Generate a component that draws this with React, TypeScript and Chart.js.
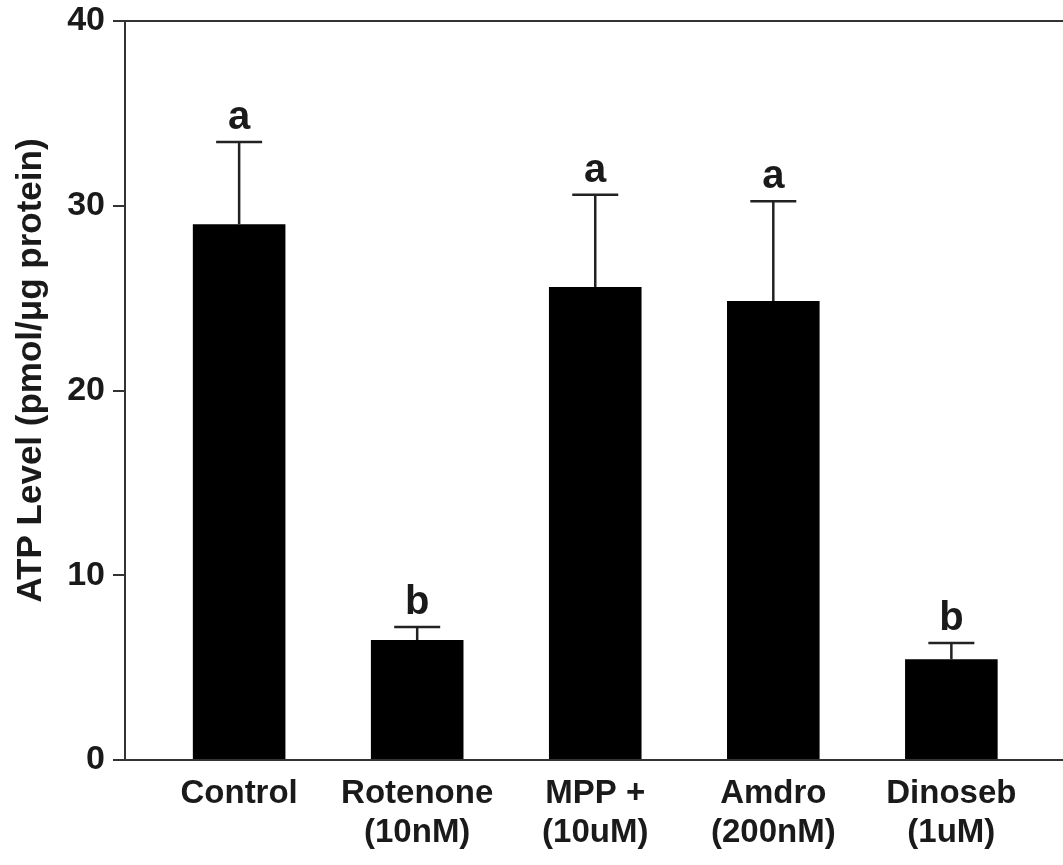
import React, { useEffect, useRef } from "react";
import { Chart, registerables } from "chart.js";

Chart.register(...registerables);

const categories: string[][] = [
  ["Control"],
  ["Rotenone", "(10nM)"],
  ["MPP +", "(10uM)"],
  ["Amdro", "(200nM)"],
  ["Dinoseb", "(1uM)"],
];
const atpMeans = [29.0, 6.5, 25.6, 24.85, 5.45];
const atpSem = [4.45, 0.7, 5.0, 5.4, 0.88];
const groupLetters = ["a", "b", "a", "a", "b"];
const yTickValues = [0, 10, 20, 30, 40];
const yTitle = "ATP Level (pmol/\u03BCg protein)";

const FONT = "'Liberation Sans', Arial, Helvetica, sans-serif";
const INK = "#1a1a1a";

export default function App() {
  const canvasRef = useRef<HTMLCanvasElement | null>(null);

  useEffect(() => {
    const canvas = canvasRef.current;
    if (!canvas) return;

    const extras = {
      id: "extras",
      afterDatasetsDraw(chart: any) {
        const { ctx, chartArea } = chart;
        const xs = chart.scales.x;
        const ys = chart.scales.y;
        ctx.save();
        // top frame line
        ctx.strokeStyle = "#333";
        ctx.lineWidth = 2;
        ctx.beginPath();
        ctx.moveTo(chartArea.left, chartArea.top);
        ctx.lineTo(chartArea.right, chartArea.top);
        ctx.stroke();
        // error bars and letters
        atpMeans.forEach((m, i) => {
          const px = xs.getPixelForValue(i);
          const yMean = ys.getPixelForValue(m);
          const yTop = ys.getPixelForValue(m + atpSem[i]);
          ctx.strokeStyle = "#222";
          ctx.lineWidth = 2.5;
          ctx.beginPath();
          ctx.moveTo(px, yMean);
          ctx.lineTo(px, yTop);
          ctx.moveTo(px - 23, yTop);
          ctx.lineTo(px + 23, yTop);
          ctx.stroke();
          ctx.fillStyle = INK;
          ctx.font = `bold 40px ${FONT}`;
          ctx.textAlign = "center";
          ctx.textBaseline = "alphabetic";
          ctx.fillText(groupLetters[i], px, yTop - 13);
        });
        // y axis title
        ctx.translate(31, (chartArea.top + chartArea.bottom) / 2 - 20);
        ctx.rotate(-Math.PI / 2);
        ctx.font = `bold 35px ${FONT}`;
        ctx.textAlign = "center";
        ctx.textBaseline = "middle";
        ctx.fillStyle = INK;
        ctx.fillText(yTitle, 0, 0);
        ctx.restore();
      },
    };

    const chart = new Chart(canvas, {
      type: "bar",
      data: {
        datasets: [
          {
            data: atpMeans.map((v, i) => ({ x: i, y: v })),
            backgroundColor: "#000",
            borderWidth: 0,
            barPercentage: 0.52,
            categoryPercentage: 1,
          },
        ],
      },
      options: {
        animation: false,
        responsive: false,
        maintainAspectRatio: false,
        layout: { padding: { top: 21, right: 0, left: 0, bottom: 0 } },
        plugins: {
          legend: { display: false },
          tooltip: { enabled: false },
        },
        scales: {
          x: {
            type: "linear",
            offset: false,
            min: -0.641,
            max: 4.627,
            afterBuildTicks: (scale: any) => {
              scale.ticks = categories.map((_, i) => ({ value: i }));
            },
            afterFit: (scale: any) => {
              scale.height = 105;
              scale.paddingLeft = 0;
              scale.paddingRight = 0;
            },
            grid: { display: true, offset: false, drawOnChartArea: false, drawTicks: false },
            border: { display: true, color: "#333", width: 2 },
            ticks: {
              autoSkip: false,
              maxRotation: 0,
              padding: 14,
              color: INK,
              font: { family: FONT, size: 33, weight: "bold", lineHeight: 1.18 },
              callback: (value: any) => categories[value as number] ?? "",
            },
          },
          y: {
            min: 0,
            max: 40,
            afterBuildTicks: (scale: any) => {
              scale.ticks = yTickValues.map((v) => ({ value: v }));
            },
            afterFit: (scale: any) => {
              scale.width = 125;
              scale.paddingTop = 0;
              scale.paddingBottom = 0;
            },
            grid: {
              drawOnChartArea: false,
              drawTicks: true,
              tickLength: 12,
              color: "#333",
              lineWidth: 2,
            },
            border: { display: true, color: "#333", width: 2 },
            ticks: {
              padding: 8,
              color: INK,
              font: { family: FONT, size: 34, weight: "bold" },
            },
          },
        },
      },
      plugins: [extras],
    } as any);

    return () => chart.destroy();
  }, []);

  return (
    <div style={{ position: "absolute", left: 0, top: 0, width: 1063, height: 865, background: "#fff" }}>
      <canvas ref={canvasRef} width={1063} height={865} style={{ display: "block" }} />
    </div>
  );
}
